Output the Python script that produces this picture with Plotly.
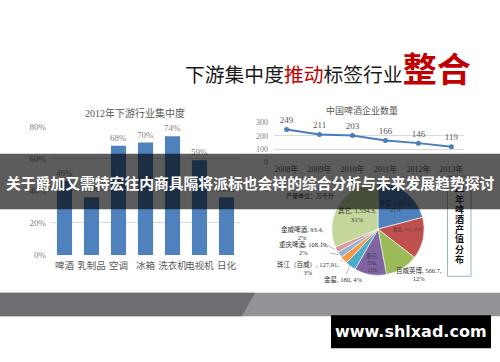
import math
import plotly.graph_objects as go

W, H = 500, 362

# ---------------- data ----------------
bar_cats = ["啤酒", "乳制品", "空调", "冰箱", "洗衣机", "电视机", "日化"]
bar_vals = [46, 36, 68, 70, 74, 59, 36]
bar_ticks = [0, 20, 40, 60, 80]
bar_tick_labels = ["0%", "20%", "40%", "60%", "80%"]

line_years = ["2008年", "2009年", "2010年", "2011年", "2012年", "2013年"]
line_vals = [249, 211, 203, 166, 146, 119]
line_ticks = [0, 100, 200, 300]

pie_labels = ["雪花", "青岛", "百威英博", "燕京", "金星", "珠江（百威）", "重庆啤酒", "金威啤酒", "其它"]
pie_vals = [1023.5, 715, 566.7, 550, 180, 127.91, 108.19, 93.4, 1534.3]

vertical_title = ["12", "年", "啤", "酒", "产", "值", "分", "布"]

# ---------------- helpers ----------------
def px(x):
    return x / W

def py(y):
    return 1 - y / H

SERIF = "Liberation Serif, Noto Sans CJK SC, serif"
CJK = "Noto Sans CJK SC, sans-serif"

def note(x, y, text, size, color, family, **kw):
    d = dict(x=px(x), y=py(y), xref="paper", yref="paper", showarrow=False,
             xanchor="center", yanchor="middle", text=text,
             font=dict(size=size, color=color, family=family))
    d.update(kw)
    return d

fig = go.Figure()

# bar chart
fig.add_trace(go.Bar(
    x=bar_cats, y=bar_vals, xaxis="x", yaxis="y",
    marker=dict(color="#4f81bd", line=dict(width=0)),
    text=[f"{v}%" for v in bar_vals], textposition="outside",
    constraintext="none", cliponaxis=False,
    textfont=dict(size=9, color="#7f7f7f", family=SERIF),
    showlegend=False, hoverinfo="skip",
))

# line chart
fig.add_trace(go.Scatter(
    x=line_years, y=line_vals, xaxis="x2", yaxis="y2",
    mode="lines+markers+text",
    line=dict(color="#4a7ebb", width=2),
    marker=dict(size=5, color="#4a7ebb"),
    text=[str(v) for v in line_vals], textposition="top center",
    textfont=dict(size=9, color="#595959", family=SERIF),
    cliponaxis=False, showlegend=False, hoverinfo="skip",
))

# pie chart
pie_colors = ["#4f81bd", "#c0504d", "#9bbb59", "#8064a2", "#4bacc6",
              "#f79646", "#95b3d7", "#d99694", "#c3d69b"]
inside = {"雪花", "青岛", "燕京", "其它"}
templates = []
positions = []
for lab in pie_labels:
    if lab == "燕京":
        templates.append("%{label},<br>%{value},<br>%{percent:.0%}")
    elif lab == "青岛":
        templates.append("%{label}, %{value}, %{percent:.0%}")
    else:
        templates.append("%{label}, %{value},<br>%{percent:.0%}")
    positions.append("inside" if lab in inside else "none")

cx, cy, r = 378, 230.5, 47.5
fig.add_trace(go.Pie(
    labels=pie_labels, values=pie_vals, sort=False, direction="clockwise", rotation=0,
    domain=dict(x=[px(cx - r), px(cx + r)], y=[py(cy + r), py(cy - r)]),
    marker=dict(colors=pie_colors, line=dict(color="white", width=0.6)),
    texttemplate=templates, textposition=positions,
    insidetextorientation="horizontal",
    textfont=dict(size=7, color="#333333", family=SERIF),
    showlegend=False, hoverinfo="skip",
))

# ---------------- layout ----------------
annotations = []
shapes = []

# main title
annotations.append(note(
    473, 92,
    ("下游集中度<span style='color:#c00000'>推动</span>标签行业"
     "<span style='color:#c00000;font-size:34px'><b>整合</b></span>"),
    19.8, "#1a1a1a", CJK, xanchor="right", yanchor="bottom"))

# chart titles
annotations.append(note(135, 111, "2012年下游行业集中度", 10, "#595959", SERIF))
annotations.append(note(362, 108, "中国啤酒企业数量", 9, "#595959", SERIF))
annotations.append(note(310, 196, "产量单位：万千升", 6, "#111111", SERIF))

# pie outside labels with leader lines
total = sum(pie_vals)
cum = 0
mid_angle = {}
for lab, v in zip(pie_labels, pie_vals):
    mid_angle[lab] = (cum + v / 2) / total * 2 * math.pi
    cum += v

label_offsets = {  # pixel offsets of label from slice edge point
    "百威英博": (16, 6, False),
    "金星": (-6, 13, True),
    "珠江（百威）": (-35, 8, True),
    "重庆啤酒": (-35, -7, True),
    "金威啤酒": (-33, -17, True),
}
for lab, (dx, dy, arrow) in label_offsets.items():
    i = pie_labels.index(lab)
    a = mid_angle[lab]
    ex = cx + r * math.sin(a)
    ey = cy - r * math.cos(a)
    pct = round(pie_vals[i] / total * 100)
    if lab == "金星":
        txt = f"{lab}, {pie_vals[i]:g}, {pct}%"
    else:
        txt = f"{lab}, {pie_vals[i]:g},<br>{pct}%"
    if arrow:
        annotations.append(dict(
            x=px(ex), y=py(ey), xref="paper", yref="paper",
            ax=dx, ay=dy, axref="pixel", ayref="pixel",
            showarrow=True, arrowhead=0, arrowwidth=0.7, arrowcolor="#9a9a9a",
            text=txt, font=dict(size=6.5, color="#333333", family=SERIF)))
    else:
        annotations.append(note(ex + dx, ey + dy, txt, 6.5, "#333333", SERIF))

# vertical title box
shapes.append(dict(type="rect", xref="paper", yref="paper",
                   x0=px(447.5), x1=px(471), y0=py(279), y1=py(176),
                   line=dict(color="#9db3cf", width=1), fillcolor="white", layer="above"))
ys = [189, 200, 210.5, 220.5, 230.5, 240.5, 251, 262]
for ch, yy in zip(vertical_title, ys):
    annotations.append(note(459.5, yy, f"<b>{ch}</b>", 9, "#111111", CJK))

# banner
shapes.append(dict(type="rect", xref="paper", yref="paper", x0=0, x1=1, y0=py(210), y1=py(153),
                   line=dict(width=0), fillcolor="rgba(0,0,0,0.64)", layer="above"))
annotations.append(note(250, 183,
                        "<b>关于爵加又需特宏往内商具隔将派标也会祥的综合分析与未来发展趋势探讨</b>",
                        14.8, "white", CJK))

# bottom bands
shapes.append(dict(type="rect", xref="paper", yref="paper", x0=0, x1=1, y0=py(320), y1=py(296),
                   line=dict(width=0), fillcolor="#939398", layer="above"))
shapes.append(dict(type="path", xref="paper", yref="paper",
                   path=f"M 0,{py(296)} L {px(255)},{py(296)} L {px(242)},{py(320)} L 0,{py(320)} Z",
                   line=dict(width=0), fillcolor="#6d6d72", layer="above"))
shapes.append(dict(type="rect", xref="paper", yref="paper", x0=px(331), x1=px(491), y0=py(353), y1=py(319),
                   line=dict(width=0), fillcolor="black", layer="above"))
annotations.append(note(411, 336, "<b>www.shlxad.com</b>", 16, "white", "DejaVu Sans"))

fig.update_layout(
    width=W, height=H, margin=dict(l=0, r=0, t=0, b=0),
    paper_bgcolor="white", plot_bgcolor="white",
    bargap=0.44,
    xaxis=dict(domain=[px(51), px(240)], anchor="y", showgrid=False, showline=False, ticks="",
               tickangle=0, ticklabelstandoff=4,
               tickfont=dict(size=9.5, color="#595959", family=CJK), fixedrange=True),
    yaxis=dict(domain=[py(257), py(125)], anchor="x", range=[0, 80], tickmode="array",
               tickvals=bar_ticks, ticktext=bar_tick_labels,
               showgrid=True, gridcolor="#d9d9d9", gridwidth=1, zeroline=False,
               showline=False, ticks="", ticklabelstandoff=4,
               tickfont=dict(size=9, color="#7f7f7f", family=SERIF), fixedrange=True),
    xaxis2=dict(domain=[px(274), px(464)], anchor="y2", showgrid=False, showline=False, ticks="",
                tickangle=0, tickfont=dict(size=8, color="#595959", family=SERIF), fixedrange=True),
    yaxis2=dict(domain=[py(162), py(121)], anchor="x2", range=[0, 300], tickvals=line_ticks,
                showgrid=True, gridcolor="#d9d9d9", gridwidth=1, zeroline=False, showline=False,
                ticks="", ticklabelstandoff=5,
                tickfont=dict(size=8, color="#7f7f7f", family=SERIF), fixedrange=True),
    annotations=annotations, shapes=shapes,
)

fig.write_html(
    "out.html",
    config={"displayModeBar": False},
    post_script=("document.body.style.margin='0';document.body.style.padding='0';"
                 "document.documentElement.style.overflow='hidden';"),
)
